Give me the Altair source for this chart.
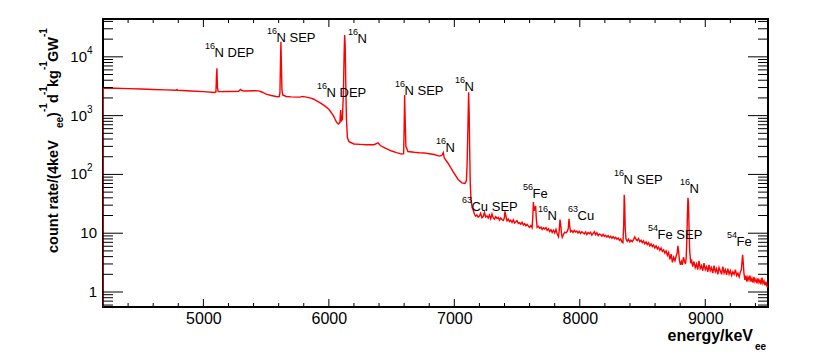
import altair as alt
import pandas as pd

# ---------------- spectrum, (energy keV, rate) ----------------
low_points = [
    (4200, 0.3), (4202, 2950), (4300, 2920), (4400, 2880), (4500, 2840), (4600, 2790),
    (4700, 2740), (4784, 2700), (4790, 2780), (4796, 2700), (4900, 2620), (5000, 2560),
    (5090, 2480), (5100, 2520), (5104, 4500), (5108, 6400), (5112, 3000), (5118, 2560),
    (5200, 2580), (5280, 2600), (5296, 2780), (5304, 2700), (5320, 2620), (5400, 2650),
    (5440, 2640), (5470, 2500), (5500, 2320), (5540, 2200), (5580, 2120), (5604, 2100),
    (5610, 2400), (5614, 7000), (5618, 18000), (5622, 7000), (5626, 2800), (5632, 2250),
    (5660, 2120), (5700, 2080), (5740, 2060), (5770, 2060), (5790, 2120), (5810, 2080),
    (5850, 2000), (5880, 1900), (5910, 1750), (5940, 1600), (5970, 1450), (6000, 1280),
    (6020, 1120), (6040, 960), (6060, 780), (6075, 720), (6088, 760), (6094, 1250),
    (6100, 820), (6108, 860), (6116, 2500), (6122, 12000), (6126, 23500), (6130, 16000),
    (6134, 4500), (6140, 900), (6148, 420), (6160, 360), (6200, 330), (6250, 325),
    (6300, 320), (6360, 320), (6392, 345), (6410, 310), (6450, 280), (6500, 250),
    (6540, 235), (6580, 222), (6596, 225), (6600, 600), (6604, 2250), (6608, 900),
    (6614, 300), (6630, 245), (6680, 238), (6720, 234), (6760, 232), (6800, 225),
    (6840, 218), (6880, 205), (6900, 210), (6912, 235), (6920, 190), (6950, 155),
    (6990, 112), (7030, 82), (7060, 72), (7085, 70), (7096, 78), (7102, 150),
    (7108, 600), (7114, 2500), (7118, 1200), (7122, 300), (7127, 70), (7133, 38),
    (7142, 27),
]
high_points = [
    (7150, 25), (7160, 21), (7170, 19.5), (7180, 20.5), (7190, 18.8), (7200, 19.6),
    (7210, 21.8), (7220, 18.4), (7230, 19.2), (7240, 22.5), (7250, 18.9), (7260, 19.8),
    (7270, 18.1), (7280, 20.4), (7290, 17.6), (7300, 21.2), (7310, 18.3), (7320, 17.4),
    (7330, 19.1), (7340, 17.8), (7350, 18.6), (7360, 16.7), (7370, 18.2), (7380, 17.1),
    (7390, 16.5), (7398, 18), (7404, 23.5), (7410, 20), (7420, 16.2), (7430, 17.4),
    (7440, 15.8), (7450, 16.6), (7460, 15.2), (7470, 16.9), (7480, 14.9), (7490, 15.6),
    (7500, 16.3), (7510, 14.6), (7520, 15.1), (7530, 14.2), (7540, 15.4), (7550, 13.8),
    (7560, 14.5), (7570, 13.4), (7580, 14.1), (7590, 13.2), (7600, 12.6), (7610, 13.5),
    (7620, 12.4), (7626, 20), (7630, 34), (7636, 24), (7642, 27), (7648, 29),
    (7654, 17), (7660, 12.6), (7670, 13.1), (7680, 12.2), (7690, 12.7), (7700, 11.6),
    (7710, 12.4), (7720, 11.8), (7730, 12.5), (7740, 11.2), (7750, 11.9), (7760, 10.7),
    (7770, 11.5), (7780, 10.3), (7790, 11.2), (7800, 10.1), (7810, 11.6), (7820, 9.7),
    (7830, 8.7), (7836, 11), (7842, 17), (7848, 14), (7854, 9.8), (7860, 8.5),
    (7870, 9.6), (7880, 10.4), (7890, 10.1), (7900, 10.7), (7908, 12), (7914, 17.5),
    (7920, 13), (7926, 10.6), (7936, 11.1), (7946, 10.3), (7956, 11.2), (7966, 10.5),
    (7976, 10.9), (7986, 10.1), (7996, 10.8), (8006, 9.9), (8016, 10.6), (8026, 10.2),
    (8036, 9.7), (8046, 10.5), (8056, 9.5), (8066, 10.3), (8076, 9.8), (8086, 10.4),
    (8096, 9.3), (8106, 9.9), (8116, 10.6), (8126, 9.4), (8136, 10.2), (8146, 9.1),
    (8156, 9.7), (8166, 9.5), (8176, 8.9), (8186, 9.6), (8196, 8.8), (8206, 9.2),
    (8216, 8.6), (8226, 9.1), (8236, 8.4), (8246, 8.9), (8256, 8.2), (8266, 8.7),
    (8276, 8.1), (8286, 8.5), (8296, 7.9), (8306, 8.3), (8316, 7.6), (8326, 8.0),
    (8336, 7.1), (8344, 6.9), (8350, 14), (8354, 45), (8358, 30), (8362, 12),
    (8368, 8), (8378, 7.3), (8388, 7.9), (8398, 7.1), (8408, 7.6), (8418, 7.2),
    (8428, 7.8), (8438, 8.7), (8448, 7.9), (8458, 7.5), (8468, 8.1), (8478, 7.2),
    (8488, 7.6), (8498, 6.9), (8508, 7.4), (8518, 6.6), (8528, 7.1), (8538, 6.4),
    (8548, 6.9), (8558, 6.1), (8568, 6.6), (8578, 5.9), (8588, 6.3), (8598, 5.6),
    (8608, 6.1), (8618, 5.4), (8628, 5.8), (8638, 5.1), (8648, 5.6), (8658, 4.9),
    (8668, 5.2), (8678, 4.6), (8688, 5.0), (8698, 4.2), (8708, 4.7), (8718, 3.6),
    (8728, 4.4), (8738, 3.2), (8748, 3.9), (8758, 3.4), (8768, 4.1), (8776, 4.6),
    (8782, 6.1), (8788, 4.8), (8794, 3.5), (8802, 2.9), (8810, 3.3), (8818, 2.9),
    (8826, 3.9), (8834, 3.4), (8842, 3.0), (8848, 3.8), (8854, 9), (8858, 22),
    (8862, 40), (8866, 33), (8870, 14), (8876, 5), (8884, 3.1), (8892, 3.4),
    (8900, 2.7), (8910, 3.3), (8920, 2.6), (8930, 3.0), (8940, 2.4), (8950, 3.4),
    (8960, 2.5), (8970, 2.8), (8980, 2.3), (8990, 3.1), (9000, 2.4), (9010, 2.7),
    (9020, 2.2), (9030, 2.9), (9040, 2.3), (9050, 2.6), (9060, 2.1), (9070, 2.8),
    (9080, 2.2), (9090, 2.5), (9100, 2.0), (9110, 2.6), (9120, 2.3), (9130, 2.0),
    (9140, 2.7), (9150, 2.1), (9160, 2.4), (9170, 1.95), (9180, 2.5), (9190, 2.0),
    (9200, 2.3), (9210, 1.9), (9220, 2.2), (9230, 2.0), (9240, 2.4), (9250, 1.9),
    (9260, 2.1), (9270, 1.8), (9280, 2.2), (9288, 2.4), (9294, 3.5), (9298, 4.3),
    (9302, 3.3), (9308, 2.1), (9316, 1.6), (9324, 1.9), (9332, 1.5), (9340, 1.8),
    (9348, 1.6), (9356, 1.9), (9364, 1.5), (9372, 1.7), (9380, 1.45), (9388, 1.8),
    (9396, 1.5), (9404, 1.65), (9412, 1.4), (9420, 1.7), (9428, 1.45), (9436, 1.6),
    (9444, 1.35), (9452, 1.75), (9460, 1.4), (9468, 1.55), (9476, 1.3), (9484, 1.5),
    (9492, 1.25), (9500, 1.2),
]

# ---------------- annotations ----------------
ann_iso = ["16", "16", "16", "16", "16", "16", "16", "63", "56", "16", "63", "16", "16", "54", "54"]
ann_text = ["N DEP", "N SEP", "N", "N DEP", "N SEP", "N", "N", "Cu SEP", "Fe", "N", "Cu",
            "N SEP", "N", "Fe SEP", "Fe"]
ann_E = [5013, 5507, 6153, 5906, 6527, 7005, 6854, 7061, 7547, 7667, 7906, 8273, 8799, 8544, 9173]
ann_V = [9920, 17850, 17180, 2070, 2240, 2620, 240, 23.9, 39.7, 16.8, 16.8, 68.7, 48.3, 7.97, 6.06]

# ---------------- axis ticks ----------------
x_major = [5000, 6000, 7000, 8000, 9000]
x_minor = [4400, 4600, 4800, 5200, 5400, 5600, 5800, 6200, 6400, 6600, 6800, 7200, 7400,
           7600, 7800, 8200, 8400, 8600, 8800, 9200, 9400]
y_major = [1, 10, 100, 1000, 10000]
y_minor = [0.6, 0.7, 0.8, 0.9, 2, 3, 4, 5, 6, 7, 8, 9, 20, 30, 40, 50, 60, 70, 80, 90,
           200, 300, 400, 500, 600, 700, 800, 900, 2000, 3000, 4000, 5000, 6000, 7000,
           8000, 9000, 20000, 30000, 40000]
y_lab_plain = ["1", "10"]
y_lab_plain_v = [1, 10]
y_lab_base = ["10", "10", "10"]
y_lab_sup = ["2", "3", "4"]
y_lab_sup_v = [100, 1000, 10000]

# y title pieces (text, px offset x, px offset y, size)
yt_text = ["count rate/(4keV", "ee", ")", "-1", "d", "-1", "kg", "-1", "GW", "-1"]
yt_px = [-45, -40, -45, -56, -45, -56, -45, -56, -45, -56]
yt_py = [234, 109, 98, 93, 84, 76, 68, 51, 43, 18]
yt_fs = [14.5, 10, 14.5, 10, 14.5, 10, 14.5, 10, 14.5, 10]

# x title pieces
xt_text = ["energy/keV", "ee"]
xt_px = [650, 652]
xt_py = [322, 331]

W, H = 665, 288
FONT = "Liberation Sans"

xscale = alt.Scale(domain=[4200, 9500], nice=False, zero=False)
yscale = alt.Scale(type="log", domain=[0.556, 44000], nice=False)
xaxis = alt.Axis(values=x_major, ticks=False, domain=False, grid=False, title=None,
                 labelFontSize=16, labelFont=FONT, labelColor="black", labelPadding=3,
                 format="d")

spec = pd.DataFrame(low_points + high_points, columns=["E", "R"])
ann = pd.DataFrame({"iso": ann_iso, "txt": ann_text, "E": ann_E, "V": ann_V})

line = alt.Chart(spec).mark_line(color="#ff0000", strokeWidth=1.4, clip=True).encode(
    x=alt.X("E:Q", scale=xscale, axis=xaxis),
    y=alt.Y("R:Q", scale=yscale, axis=None),
)

sup = alt.Chart(ann).mark_text(align="left", baseline="alphabetic", dy=-8, fontSize=9,
                               font=FONT, color="black").encode(
    x=alt.X("E:Q", scale=xscale, axis=xaxis),
    y=alt.Y("V:Q", scale=yscale, axis=None),
    text="iso:N",
)
main = alt.Chart(ann).mark_text(align="left", baseline="alphabetic", dx=9.5, fontSize=13,
                                font=FONT, color="black").encode(
    x=alt.X("E:Q", scale=xscale, axis=xaxis),
    y=alt.Y("V:Q", scale=yscale, axis=None),
    text="txt:N",
)


def xticks(vals, y1, y2):
    return alt.Chart(pd.DataFrame({"t": vals})).mark_rule(color="black", strokeWidth=1).encode(
        x=alt.X("t:Q", scale=xscale, axis=xaxis), y=alt.value(y1), y2=alt.value(y2))


def yticks(vals, x1, x2):
    return alt.Chart(pd.DataFrame({"t": vals})).mark_rule(color="black", strokeWidth=1).encode(
        y=alt.Y("t:Q", scale=yscale, axis=None), x=alt.value(x1), x2=alt.value(x2))


ticks = [
    xticks(x_major, H, H - 8), xticks(x_minor, H, H - 4),
    xticks(x_major, 0, 8), xticks(x_minor, 0, 4),
    yticks(y_major, 0, 20), yticks(y_minor, 0, 10),
    yticks(y_major, W, W - 20), yticks(y_minor, W, W - 10),
]

ylab_plain = alt.Chart(pd.DataFrame({"v": y_lab_plain_v, "s": y_lab_plain})).mark_text(
    align="right", baseline="middle", fontSize=15, font=FONT, color="black").encode(
    y=alt.Y("v:Q", scale=yscale, axis=None), x=alt.value(-6), text="s:N")
ylab_base = alt.Chart(pd.DataFrame({"v": y_lab_sup_v, "s": y_lab_base})).mark_text(
    align="right", baseline="middle", fontSize=15, font=FONT, color="black").encode(
    y=alt.Y("v:Q", scale=yscale, axis=None), x=alt.value(-16), text="s:N")
ylab_sup = alt.Chart(pd.DataFrame({"v": y_lab_sup_v, "s": y_lab_sup})).mark_text(
    align="left", baseline="middle", fontSize=10, dy=-6, font=FONT, color="black").encode(
    y=alt.Y("v:Q", scale=yscale, axis=None), x=alt.value(-16), text="s:N")

ytitle = alt.Chart(pd.DataFrame({"t": yt_text, "px": yt_px, "py": yt_py, "fs": yt_fs})).mark_text(
    align="left", baseline="alphabetic", angle=270, fontWeight="bold", font=FONT,
    color="black").encode(
    x=alt.X("px:Q", scale=None), y=alt.Y("py:Q", scale=None),
    size=alt.Size("fs:Q", scale=None, legend=None), text="t:N")

xtitle_main = alt.Chart(pd.DataFrame({"t": xt_text[:1], "px": xt_px[:1], "py": xt_py[:1]})).mark_text(
    align="right", baseline="alphabetic", fontWeight="bold", font=FONT, fontSize=16,
    color="black").encode(x=alt.X("px:Q", scale=None), y=alt.Y("py:Q", scale=None), text="t:N")
xtitle_sub = alt.Chart(pd.DataFrame({"t": xt_text[1:], "px": xt_px[1:], "py": xt_py[1:]})).mark_text(
    align="left", baseline="alphabetic", fontWeight="bold", font=FONT, fontSize=10,
    color="black").encode(x=alt.X("px:Q", scale=None), y=alt.Y("py:Q", scale=None), text="t:N")

chart = alt.layer(
    line, *ticks, sup, main, ylab_plain, ylab_base, ylab_sup, ytitle, xtitle_main, xtitle_sub
).properties(
    width=W, height=H,
    autosize=alt.AutoSizeParams(type="none"),
    padding={"left": 95, "top": 11, "right": 54, "bottom": 44},
    background="white",
).configure_view(stroke="black", strokeWidth=2)

chart.save("out.html", embed_options={"renderer": "svg", "actions": False})
